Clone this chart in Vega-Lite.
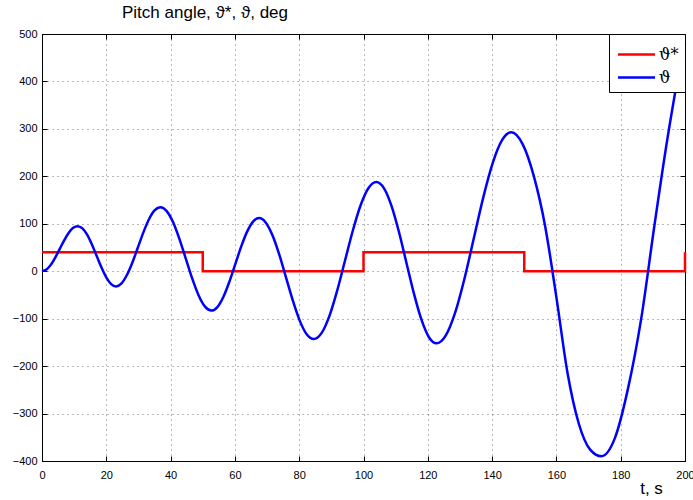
{
  "$schema": "https://vega.github.io/schema/vega-lite/v6.json",
  "autosize": {"type": "none"},
  "padding": {"left": 42, "top": 34, "right": 8, "bottom": 39},
  "width": 643,
  "height": 427,
  "background": "white",
  "config": {
    "font": "Liberation Sans",
    "view": {"stroke": "black", "strokeWidth": 1},
    "axis": {
      "labelFont": "Liberation Sans",
      "labelFontSize": 11,
      "labelColor": "black",
      "labelFlush": false,
      "labelOverlap": false,
      "domainColor": "black",
      "domainWidth": 1,
      "tickColor": "black",
      "tickSize": -5,
      "gridColor": "#000000",
      "gridOpacity": 0.55,
      "gridDash": [1, 4],
      "gridWidth": 1
    }
  },
  "title": {
    "text": "Pitch angle, ϑ*, ϑ, deg",
    "anchor": "start",
    "frame": "group",
    "dx": 80,
    "offset": 6,
    "fontSize": 17,
    "fontWeight": "normal",
    "font": "Liberation Sans",
    "color": "black"
  },
  "datasets": {
    "ref": [
      {"i": 0, "t": 0, "v": 40, "s": "ϑ*"},
      {"i": 1, "t": 50, "v": 40, "s": "ϑ*"},
      {"i": 2, "t": 50, "v": 0, "s": "ϑ*"},
      {"i": 3, "t": 100, "v": 0, "s": "ϑ*"},
      {"i": 4, "t": 100, "v": 40, "s": "ϑ*"},
      {"i": 5, "t": 150, "v": 40, "s": "ϑ*"},
      {"i": 6, "t": 150, "v": 0, "s": "ϑ*"},
      {"i": 7, "t": 200, "v": 0, "s": "ϑ*"},
      {"i": 8, "t": 200, "v": 40, "s": "ϑ*"}
    ],
    "resp": [
      {"t": 0, "v": 0, "s": "ϑ"},
      {"t": 1.39, "v": 3.6, "s": "ϑ"},
      {"t": 2.78, "v": 13.9, "s": "ϑ"},
      {"t": 4.16, "v": 29.3, "s": "ϑ"},
      {"t": 5.55, "v": 47.5, "s": "ϑ"},
      {"t": 6.94, "v": 65.7, "s": "ϑ"},
      {"t": 8.33, "v": 81.1, "s": "ϑ"},
      {"t": 9.71, "v": 91.4, "s": "ϑ"},
      {"t": 11.1, "v": 95, "s": "ϑ"},
      {"t": 12.59, "v": 90.2, "s": "ϑ"},
      {"t": 14.08, "v": 76.4, "s": "ϑ"},
      {"t": 15.56, "v": 55.8, "s": "ϑ"},
      {"t": 17.05, "v": 31.5, "s": "ϑ"},
      {"t": 18.54, "v": 7.2, "s": "ϑ"},
      {"t": 20.03, "v": -13.4, "s": "ϑ"},
      {"t": 21.51, "v": -27.2, "s": "ϑ"},
      {"t": 23, "v": -32, "s": "ϑ"},
      {"t": 24.73, "v": -25.6, "s": "ϑ"},
      {"t": 26.45, "v": -7.5, "s": "ϑ"},
      {"t": 28.18, "v": 19.5, "s": "ϑ"},
      {"t": 29.9, "v": 51.5, "s": "ϑ"},
      {"t": 31.63, "v": 83.5, "s": "ϑ"},
      {"t": 33.35, "v": 110.5, "s": "ϑ"},
      {"t": 35.08, "v": 128.6, "s": "ϑ"},
      {"t": 36.8, "v": 135, "s": "ϑ"},
      {"t": 38.79, "v": 126.7, "s": "ϑ"},
      {"t": 40.78, "v": 103.1, "s": "ϑ"},
      {"t": 42.76, "v": 67.7, "s": "ϑ"},
      {"t": 44.75, "v": 26, "s": "ϑ"},
      {"t": 46.74, "v": -15.7, "s": "ϑ"},
      {"t": 48.73, "v": -51.1, "s": "ϑ"},
      {"t": 50.71, "v": -74.7, "s": "ϑ"},
      {"t": 52.7, "v": -83, "s": "ϑ"},
      {"t": 54.55, "v": -75.6, "s": "ϑ"},
      {"t": 56.4, "v": -54.4, "s": "ϑ"},
      {"t": 58.25, "v": -22.8, "s": "ϑ"},
      {"t": 60.1, "v": 14.5, "s": "ϑ"},
      {"t": 61.95, "v": 51.8, "s": "ϑ"},
      {"t": 63.8, "v": 83.4, "s": "ϑ"},
      {"t": 65.65, "v": 104.6, "s": "ϑ"},
      {"t": 67.5, "v": 112, "s": "ϑ"},
      {"t": 69.63, "v": 102.3, "s": "ϑ"},
      {"t": 71.75, "v": 74.7, "s": "ϑ"},
      {"t": 73.88, "v": 33.3, "s": "ϑ"},
      {"t": 76, "v": -15.5, "s": "ϑ"},
      {"t": 78.13, "v": -64.3, "s": "ϑ"},
      {"t": 80.25, "v": -105.7, "s": "ϑ"},
      {"t": 82.38, "v": -133.3, "s": "ϑ"},
      {"t": 84.5, "v": -143, "s": "ϑ"},
      {"t": 86.94, "v": -130.4, "s": "ϑ"},
      {"t": 89.38, "v": -94.5, "s": "ϑ"},
      {"t": 91.81, "v": -40.8, "s": "ϑ"},
      {"t": 94.25, "v": 22.5, "s": "ϑ"},
      {"t": 96.69, "v": 85.8, "s": "ϑ"},
      {"t": 99.13, "v": 139.5, "s": "ϑ"},
      {"t": 101.56, "v": 175.4, "s": "ϑ"},
      {"t": 104, "v": 188, "s": "ϑ"},
      {"t": 106.34, "v": 175.1, "s": "ϑ"},
      {"t": 108.68, "v": 138.2, "s": "ϑ"},
      {"t": 111.01, "v": 83.1, "s": "ϑ"},
      {"t": 113.35, "v": 18, "s": "ϑ"},
      {"t": 115.69, "v": -47.1, "s": "ϑ"},
      {"t": 118.03, "v": -102.2, "s": "ϑ"},
      {"t": 120.36, "v": -139.1, "s": "ϑ"},
      {"t": 122.7, "v": -152, "s": "ϑ"},
      {"t": 125.61, "v": -135.1, "s": "ϑ"},
      {"t": 128.53, "v": -86.8, "s": "ϑ"},
      {"t": 131.44, "v": -14.7, "s": "ϑ"},
      {"t": 134.35, "v": 70.5, "s": "ϑ"},
      {"t": 137.26, "v": 155.7, "s": "ϑ"},
      {"t": 140.18, "v": 227.8, "s": "ϑ"},
      {"t": 143.09, "v": 276.1, "s": "ϑ"},
      {"t": 146, "v": 293, "s": "ϑ"},
      {"t": 149.5, "v": 268, "s": "ϑ"},
      {"t": 153, "v": 200, "s": "ϑ"},
      {"t": 156.5, "v": 95, "s": "ϑ"},
      {"t": 160, "v": -55, "s": "ϑ"},
      {"t": 163.5, "v": -216, "s": "ϑ"},
      {"t": 167, "v": -322, "s": "ϑ"},
      {"t": 170.5, "v": -376, "s": "ϑ"},
      {"t": 174, "v": -390, "s": "ϑ"},
      {"t": 178.13, "v": -352.9, "s": "ϑ"},
      {"t": 182.25, "v": -248, "s": "ϑ"},
      {"t": 186.38, "v": -100, "s": "ϑ"},
      {"t": 190.5, "v": 97, "s": "ϑ"},
      {"t": 194.63, "v": 283.4, "s": "ϑ"},
      {"t": 198.75, "v": 441.4, "s": "ϑ"},
      {"t": 200, "v": 480, "s": "ϑ"}
    ]
  },
  "layer": [
    {
      "data": {"name": "ref"},
      "mark": {"type": "line", "strokeWidth": 2.5, "interpolate": "linear"},
      "encoding": {
        "x": {
          "field": "t", "type": "quantitative",
          "scale": {"domain": [0, 200], "nice": false, "zero": false},
          "axis": {
            "orient": "bottom",
            "values": [0, 20, 40, 60, 80, 100, 120, 140, 160, 180, 200],
            "grid": true,
            "labelPadding": 13,
            "title": "t, s",
            "titleFont": "Liberation Sans",
            "titleFontSize": 17,
            "titleFontWeight": "normal",
            "titleColor": "black",
            "titleAlign": "center",
            "titleBaseline": "middle",
            "titleX": 609,
            "titleY": 27
          }
        },
        "y": {
          "field": "v", "type": "quantitative",
          "scale": {"domain": [-400, 500], "nice": false, "zero": false},
          "axis": {
            "orient": "left",
            "values": [-400, -300, -200, -100, 0, 100, 200, 300, 400, 500],
            "grid": true,
            "labelPadding": 10,
            "title": null
          }
        },
        "order": {"field": "i"},
        "color": {
          "field": "s", "type": "nominal",
          "scale": {"domain": ["ϑ*", "ϑ"], "range": ["#ff0000", "#0000ff"]},
          "legend": {
            "title": null,
            "orient": "top-right",
            "offset": 0,
            "fillColor": "white",
            "strokeColor": "black",
            "padding": 6,
            "symbolType": "M-1.4,0H1.4",
            "symbolSize": 700,
            "symbolStrokeWidth": 2.5,
            "symbolOffset": 7,
            "labelFontSize": 16,
            "labelFont": "DejaVu Serif",
            "labelColor": "black",
            "rowPadding": 0,
            "labelOffset": 8
          }
        }
      }
    },
    {
      "data": {"name": "resp"},
      "mark": {"type": "line", "strokeWidth": 2.5, "interpolate": "monotone"},
      "encoding": {
        "x": {
          "field": "t", "type": "quantitative",
          "axis": {
            "orient": "top",
            "values": [0, 20, 40, 60, 80, 100, 120, 140, 160, 180, 200],
            "labels": false,
            "grid": false,
            "title": null
          }
        },
        "y": {
          "field": "v", "type": "quantitative",
          "axis": {
            "orient": "right",
            "values": [-400, -300, -200, -100, 0, 100, 200, 300, 400, 500],
            "labels": false,
            "grid": false,
            "title": null
          }
        },
        "color": {"field": "s", "type": "nominal"}
      }
    }
  ],
  "resolve": {"axis": {"x": "independent", "y": "independent"}}
}
